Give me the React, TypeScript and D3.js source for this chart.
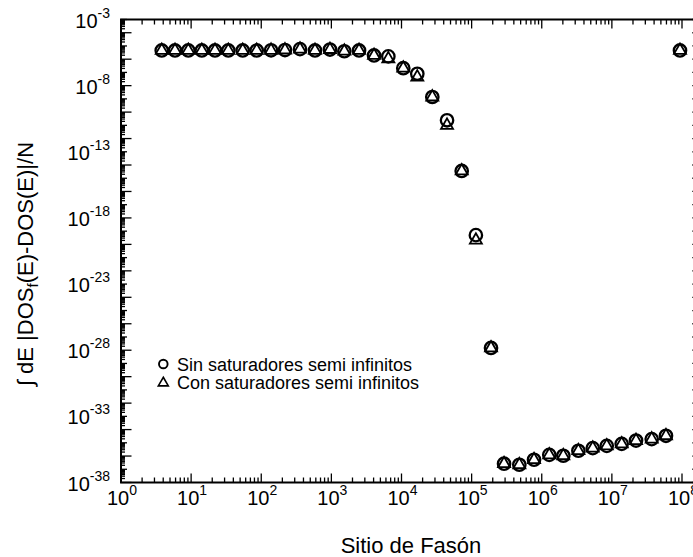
import React from "react";
import * as d3 from "d3";

// Fason site index (x) for every sample
const SITES = [
  3.81, 5.89, 9.12, 14.2, 21.9, 33.9, 54.4, 86.1, 138, 218, 357, 584, 955,
  1530, 2480, 4060, 6490, 10600, 16800, 27500, 44600, 72200, 115000, 189000,
  290000, 479000, 776000, 1280000, 2030000, 3330000, 5340000, 8450000,
  13800000, 22100000, 37000000, 59100000, 93600000,
];

// Integrated DOS difference without semi-infinite leads
const SIN_SATURADORES = [
  4.57e-6, 4.57e-6, 4.57e-6, 4.57e-6, 4.57e-6, 4.57e-6, 4.57e-6, 4.57e-6,
  4.68e-6, 4.9e-6, 5.75e-6, 4.57e-6, 5.37e-6, 3.98e-6, 4.57e-6, 1.91e-6,
  1.62e-6, 2.09e-7, 7.94e-8, 1.38e-9, 2.4e-11, 3.55e-15, 5.01e-20, 1.48e-28,
  2.63e-37, 2.19e-37, 5.25e-37, 1.23e-36, 1.05e-36, 2.51e-36, 3.98e-36,
  5.89e-36, 8.32e-36, 1.48e-35, 1.91e-35, 3.39e-35, 4.57e-6,
];

// Integrated DOS difference with semi-infinite leads
const CON_SATURADORES = [
  4.57e-6, 4.57e-6, 4.57e-6, 4.57e-6, 4.57e-6, 4.57e-6, 4.57e-6, 4.57e-6,
  4.68e-6, 4.9e-6, 5.75e-6, 4.57e-6, 5.37e-6, 3.98e-6, 4.57e-6, 1.91e-6,
  1.07e-6, 2.09e-7, 4.47e-8, 1.38e-9, 1.0e-11, 3.55e-15, 2.09e-20, 1.48e-28,
  2.63e-37, 2.19e-37, 5.25e-37, 1.23e-36, 1.05e-36, 2.51e-36, 3.98e-36,
  5.89e-36, 8.32e-36, 1.48e-35, 1.91e-35, 3.39e-35, 4.57e-6,
];

const X_TICK_EXPONENTS = [0, 1, 2, 3, 4, 5, 6, 7, 8];
const Y_TICK_EXPONENTS = [-3, -8, -13, -18, -23, -28, -33, -38];
const LEGEND_LABELS = [
  "Sin saturadores semi infinitos",
  "Con saturadores semi infinitos",
];
const X_TITLE = "Sitio de Fasón";

const W = 693;
const H = 557;
const FONT = "'Liberation Sans', Arial, sans-serif";

export default function App() {
  const x = d3.scaleLog().domain([1, 1e8]).range([121, 682]);
  const y = d3.scaleLog().domain([1e-38, 1e-3]).range([482.5, 19.5]);

  const left = x(1);
  const right = x(1.6e8);
  const top = y(1e-3);
  const bottom = y(1e-38);

  const circlePath = d3.symbol(d3.symbolCircle, Math.PI * 6.2 * 6.2)()!;
  const triSide = 12;
  const triPath = d3.symbol(d3.symbolTriangle, (triSide * triSide * Math.sqrt(3)) / 4)()!;
  const legCircle = d3.symbol(d3.symbolCircle, Math.PI * 4.3 * 4.3)()!;
  const legSide = 10;
  const legTri = d3.symbol(d3.symbolTriangle, (legSide * legSide * Math.sqrt(3)) / 4)()!;

  // x ticks: decades + 2..9 minors
  const xMajor = d3.range(0, 9).map((e) => Math.pow(10, e));
  const xMinor: number[] = [];
  for (let e = 0; e < 8; e++) for (let k = 2; k <= 9; k++) xMinor.push(k * Math.pow(10, e));

  // y ticks
  const yDecades = d3.range(-38, -2).map((e) => e);
  const yMinor: number[] = [];
  for (let e = -38; e < -3; e++) for (let k = 2; k <= 9; k++) yMinor.push(k * Math.pow(10, e));

  return (
    <svg
      width={W}
      height={H}
      style={{ position: "fixed", left: 0, top: 0, background: "#fff" }}
      fontFamily={FONT}
    >
      <rect x={0} y={0} width={W} height={H} fill="#fff" />
      <g stroke="#000" strokeWidth={1.3}>
        {xMinor.map((v, i) => (
          <g key={"xm" + i}>
            <line x1={x(v)} x2={x(v)} y1={bottom} y2={bottom - 5} />
            <line x1={x(v)} x2={x(v)} y1={top} y2={top + 5} />
          </g>
        ))}
        {xMajor.map((v, i) => (
          <g key={"xM" + i}>
            <line x1={x(v)} x2={x(v)} y1={bottom} y2={bottom - 9} />
            <line x1={x(v)} x2={x(v)} y1={top} y2={top + 9} />
          </g>
        ))}
        {yMinor.map((v, i) => (
          <line key={"ym" + i} x1={left} x2={left + 4} y1={y(v)} y2={y(v)} />
        ))}
        {yDecades.map((e) => (
          <g key={"yd" + e}>
            <line
              x1={left}
              x2={left + (e % 2 === 0 ? 10.5 : 6)}
              y1={y(Math.pow(10, e))}
              y2={y(Math.pow(10, e))}
            />
            <line
              x1={right}
              x2={right - 4}
              y1={y(Math.pow(10, e))}
              y2={y(Math.pow(10, e))}
            />
          </g>
        ))}
      </g>
      <rect
        x={left}
        y={top}
        width={right - left}
        height={bottom - top}
        fill="none"
        stroke="#000"
        strokeWidth={2}
      />

      {/* tick labels */}
      {X_TICK_EXPONENTS.map((e) => (
        <text
          key={"xl" + e}
          x={x(Math.pow(10, e)) + 1}
          y={504.5}
          fontSize={20}
          textAnchor="middle"
          fill="#000"
        >
          10
          <tspan fontSize={14} dy={-10}>
            {e}
          </tspan>
        </text>
      ))}
      {Y_TICK_EXPONENTS.map((e) => (
        <text
          key={"yl" + e}
          x={110}
          y={y(Math.pow(10, e)) + 8}
          fontSize={20}
          textAnchor="end"
          fill="#000"
        >
          10
          <tspan fontSize={14} dy={-10}>
            {e}
          </tspan>
        </text>
      ))}

      {/* axis titles */}
      <text x={411} y={553} fontSize={22} textAnchor="middle" fill="#000">
        {X_TITLE}
      </text>
      <text
        transform="translate(33,264) rotate(-90)"
        fontSize={22}
        textAnchor="middle"
        fill="#000"
      >
        ∫ dE |DOS
        <tspan fontSize={15} dy={5}>
          f
        </tspan>
        <tspan dy={-5}>(E)-DOS(E)|/N</tspan>
      </text>

      {/* data */}
      <g fill="none" stroke="#000">
        {SITES.map((s, i) => (
          <path
            key={"c" + i}
            d={circlePath}
            transform={`translate(${x(s)},${y(SIN_SATURADORES[i])})`}
            strokeWidth={2.3}
          />
        ))}
        {SITES.map((s, i) => (
          <path
            key={"t" + i}
            d={triPath}
            transform={`translate(${x(s)},${y(CON_SATURADORES[i])})`}
            strokeWidth={1.8}
          />
        ))}
      </g>

      {/* legend */}
      <g>
        <path d={legCircle} transform="translate(163.3,364)" fill="none" stroke="#000" strokeWidth={1.9} />
        <text x={177} y={370.5} fontSize={18} fill="#000">
          {LEGEND_LABELS[0]}
        </text>
        <path d={legTri} transform="translate(163.3,383)" fill="none" stroke="#000" strokeWidth={1.6} />
        <text x={177} y={388.5} fontSize={18} fill="#000">
          {LEGEND_LABELS[1]}
        </text>
      </g>
    </svg>
  );
}
